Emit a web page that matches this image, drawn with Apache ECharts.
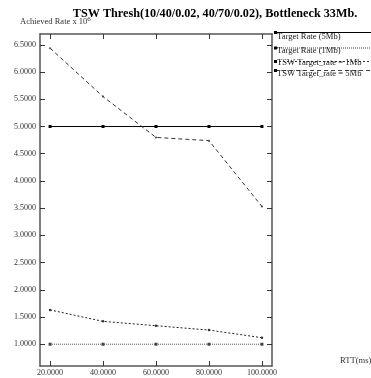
<!DOCTYPE html>
<html><head><meta charset="utf-8">
<script src="https://cdn.jsdelivr.net/npm/echarts@6/dist/echarts.min.js"></script>
<style>html,body{margin:0;padding:0;background:#fff}#c{width:371px;height:378px}</style>
</head><body><div id="c"></div>
<script>
const rtt = [20, 40, 60, 80, 100];
const target5 = [5.0, 5.0, 5.0, 5.0, 5.0];
const target1 = [1.0, 1.0, 1.0, 1.0, 1.0];
const tsw1 = [1.63, 1.42, 1.34, 1.26, 1.12];
const tsw5 = [6.44, 5.55, 4.80, 4.74, 3.53];
const yTicks = [1.0, 1.5, 2.0, 2.5, 3.0, 3.5, 4.0, 4.5, 5.0, 5.5, 6.0, 6.5];
const xTicks = [20, 40, 60, 80, 100];
const legendNames = ['Target Rate (5Mb)', 'Target Rate (1Mb)', 'TSW Target_rate = 1Mb', 'TSW Target_rate = 5Mb'];

const F = 'Liberation Serif';
const chart = echarts.init(document.getElementById('c'), null, {renderer: 'canvas'});
const pair = a => a.map((v, i) => [rtt[i], v]);
const axisLine = {show: true, lineStyle: {color: '#555', width: 1.5}};
const tickIn = {show: true, inside: true, length: 5, lineStyle: {color: '#333', width: 1}};

const legendStyles = [
  {type: 'solid', color: '#000', width: 1},
  {type: [1, 1], color: '#444', width: 1},
  {type: [2, 2], color: '#333', width: 1},
  {type: [4, 3], color: '#444', width: 1}
];
const legendLineY = [32.5, 48, 61.5, 70.5];
const legendTextY = [37, 50.5, 62.5, 73.5];
const graphics = [];
legendNames.forEach((n, i) => {
  graphics.push({type: 'line', shape: {x1: 275, y1: legendLineY[i], x2: 371, y2: legendLineY[i]},
    style: {stroke: legendStyles[i].color, lineWidth: 1, lineDash: legendStyles[i].type === 'solid' ? null : legendStyles[i].type}});
  graphics.push({type: 'rect', shape: {x: 274, y: legendLineY[i] - 1.5, width: 3, height: 3}, style: {fill: '#000'}});
  graphics.push({type: 'text', x: 277, y: legendTextY[i], style: {text: n, font: '8.6px "Liberation Serif"', fill: '#222', textVerticalAlign: 'middle'}});
});
graphics.push({type: 'text', x: 340, y: 361, style: {text: 'RTT(ms)', font: '8.6px "Liberation Serif"', fill: '#333', textVerticalAlign: 'middle'}});
graphics.push({type: 'text', x: 20, y: 22, style: {text: '{a|Achieved Rate x 10}{s|6}', textVerticalAlign: 'middle',
  rich: {a: {fontFamily: F, fontSize: 8.5, fill: '#333'}, s: {fontFamily: F, fontSize: 7, fill: '#333', verticalAlign: 'top', padding: [0, 0, 6, 0]}}}});

chart.setOption({
  animation: false,
  title: {text: 'TSW Thresh(10/40/0.02, 40/70/0.02), Bottleneck 33Mb.', left: 210, top: 3, textAlign: 'center',
    textStyle: {fontFamily: F, fontWeight: 'bold', fontSize: 12.2, color: '#000'}},
  grid: {left: 40, right: 99, top: 34, bottom: 12},
  xAxis: [
    {type: 'value', min: 16.2, max: 103.8, axisLine: axisLine, splitLine: {show: false},
      axisTick: Object.assign({customValues: xTicks}, tickIn),
      axisLabel: {customValues: xTicks, formatter: v => v.toFixed(4), fontFamily: F, fontSize: 8, color: '#333', margin: 3}},
    {type: 'value', position: 'top', min: 16.2, max: 103.8, axisLine: axisLine, splitLine: {show: false},
      axisTick: Object.assign({customValues: xTicks}, tickIn), axisLabel: {show: false}}
  ],
  yAxis: [
    {type: 'value', min: 0.6, max: 6.7, axisLine: axisLine, splitLine: {show: false},
      axisTick: Object.assign({customValues: yTicks}, tickIn),
      axisLabel: {customValues: yTicks, formatter: v => v.toFixed(4), fontFamily: F, fontSize: 8, color: '#333', margin: 4}},
    {type: 'value', position: 'right', min: 0.6, max: 6.7, axisLine: axisLine, splitLine: {show: false},
      axisTick: Object.assign({customValues: yTicks}, tickIn), axisLabel: {show: false}}
  ],
  series: [
    {name: legendNames[0], type: 'line', data: pair(target5), symbol: 'rect', symbolSize: 3,
      itemStyle: {color: '#000'}, lineStyle: {color: '#000', width: 1, type: 'solid'}},
    {name: legendNames[1], type: 'line', data: pair(target1), symbol: 'rect', symbolSize: 3,
      itemStyle: {color: '#444'}, lineStyle: {color: '#555', width: 1, type: [1, 1]}},
    {name: legendNames[2], type: 'line', data: pair(tsw1), symbol: 'circle', symbolSize: 2.5,
      itemStyle: {color: '#333'}, lineStyle: {color: '#222', width: 1, type: [2, 2]}},
    {name: legendNames[3], type: 'line', data: pair(tsw5), symbol: 'circle', symbolSize: 2,
      itemStyle: {color: '#444'}, lineStyle: {color: '#333', width: 1, type: [4, 3]}}
  ],
  graphic: graphics
});
</script></body></html>
